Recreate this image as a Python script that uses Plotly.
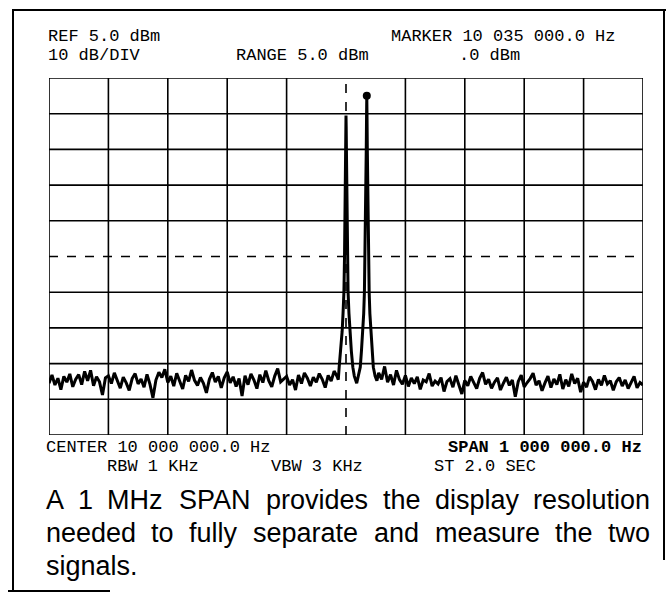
import plotly.graph_objects as go

# ---------------- data ----------------
CENTER_HZ = 10_000_000
SPAN_HZ = 1_000_000
REF_DBM = 5.0
DB_PER_DIV = 10

# noise floor to the left of the signals: offsets -500 .. -15 kHz, every 5 kHz
noise_left_khz = list(range(-500, -14, 5))
noise_left_dbm = [
    -80.5, -78.2, -81.0, -79.1, -82.3, -78.6, -80.2, -77.9, -81.5, -79.4,
    -78.1, -80.9, -77.2, -79.8, -76.9, -81.2, -78.7, -80.1, -83.8, -79.0,
    -78.4, -80.6, -77.6, -79.5, -81.9, -78.8, -80.4, -82.5, -79.2, -77.8,
    -80.7, -79.3, -81.6, -78.0, -80.8, -84.6, -79.6, -77.4, -78.9, -76.6,
    -80.3, -78.5, -81.3, -77.7, -79.9, -82.1, -78.3, -80.0, -76.8, -79.7,
    -81.1, -78.9, -80.5, -83.2, -79.4, -77.5, -80.2, -78.6, -81.8, -79.0,
    -77.3, -80.4, -78.7, -81.4, -79.2, -84.1, -78.4, -80.9, -77.9, -79.6,
    -82.0, -78.1, -80.3, -77.0, -79.8, -81.5, -78.5, -76.4, -80.1, -79.3,
    -78.6, -81.0, -79.5, -82.4, -78.2, -80.6, -77.6, -79.1, -81.3, -78.8,
    -80.2, -77.8, -79.4, -81.7, -78.3, -79.9, -77.1, -78.6,
]

# the two signals (10.000 MHz and 10.035 MHz) and their skirts
peaks_khz = [
    -13, -11.5, -9, -6.5, -5, -3.5, -2.5, -1.8, -1.2, -0.7, -0.3, 0,
    0.3, 0.7, 1.2, 1.8, 2.5, 3.5, 5, 6.5, 9, 11.5, 14, 18, 21, 24, 26,
    28.2, 29.8, 31, 32, 32.8, 33.5, 34.1, 34.6, 35, 35.4, 35.9, 36.5,
    37.2, 38, 39, 40.2, 41.8, 44, 46, 49, 52,
]
peaks_dbm = [
    -79.5, -76, -71.5, -66, -61, -55, -45, -35, -25, -15, -8.5, -5.5,
    -8.5, -15, -25, -35, -45, -55, -61, -66, -71.5, -76, -78.5, -80.5, -78.5, -76, -71.5,
    -66, -61, -55, -45, -35, -25, -15, -6, 0, -6, -15, -25,
    -35, -45, -55, -61, -66, -71.5, -76, -78.5, -79.8,
]

# noise floor to the right of the signals: offsets 55 .. 500 kHz, every 5 kHz
noise_right_khz = list(range(55, 501, 5))
noise_right_dbm = [
    -77.6, -79.4, -75.8, -80.2, -78.1, -81.0, -76.9, -79.5, -80.8, -78.3,
    -81.4, -79.0, -80.6, -78.7, -82.2, -79.6, -80.1, -77.8, -81.3, -79.9,
    -80.7, -78.9, -82.8, -80.0, -79.2, -81.6, -78.4, -80.9, -83.5, -79.7,
    -81.2, -78.6, -80.4, -82.0, -79.1, -77.5, -80.8, -79.4, -81.9, -80.2,
    -79.0, -82.4, -80.5, -78.8, -81.1, -79.6, -84.3, -80.0, -78.2, -81.5,
    -80.3, -79.2, -77.7, -81.0, -79.8, -82.6, -80.4, -78.5, -81.7, -79.3,
    -80.9, -78.0, -82.1, -79.5, -81.4, -77.9, -80.6, -79.1, -83.0, -80.2,
    -81.6, -78.7, -80.0, -82.3, -79.4, -81.1, -78.3, -80.7, -79.8, -82.5,
    -80.1, -78.9, -81.3, -79.6, -82.0, -80.4, -78.6, -81.8, -80.3, -81.0,
]

marker_hz = 10_035_000
marker_dbm = 0.0

header_left = ["REF 5.0 dBm", "10 dB/DIV"]
header_marker = ["MARKER 10 035 000.0 Hz", ".0 dBm"]
header_range = "RANGE 5.0 dBm"
footer_center = "CENTER 10 000 000.0 Hz"
footer_span = "SPAN 1 000 000.0 Hz"
footer_rbw = "RBW 1 KHz"
footer_vbw = "VBW 3 KHz"
footer_st = "ST 2.0 SEC"
caption_lines = [
    "A 1 MHz SPAN provides the display resolution",
    "needed to fully separate and measure the two",
    "signals.",
]

# ---------------- figure ----------------
W, H = 669, 596
GX0, GX1, GY0, GY1 = 49, 643, 78, 435


def px(x):
    return x / W


def py(y):
    return 1 - y / H


freqs = [CENTER_HZ + k * 1000 for k in noise_left_khz + peaks_khz + noise_right_khz]
levels = noise_left_dbm + peaks_dbm + noise_right_dbm

fig = go.Figure()
fig.add_trace(go.Scatter(
    x=freqs, y=levels, mode="lines",
    line=dict(color="black", width=3), hoverinfo="skip", showlegend=False,
))
fig.add_trace(go.Scatter(
    x=[marker_hz], y=[marker_dbm], mode="markers",
    marker=dict(color="black", size=8), hoverinfo="skip", showlegend=False,
))

x_lo, x_hi = CENTER_HZ - SPAN_HZ / 2, CENTER_HZ + SPAN_HZ / 2
y_hi = REF_DBM
y_lo = REF_DBM - 10 * DB_PER_DIV

shapes = []
for i in range(11):
    xv = x_lo + i * SPAN_HZ / 10
    shapes.append(dict(type="line", xref="x", yref="y", x0=xv, x1=xv, y0=y_lo, y1=y_hi,
                       line=dict(color="black", width=1.6,
                                 dash="dash" if i == 5 else "solid")))
for j in range(11):
    yv = y_lo + j * DB_PER_DIV
    shapes.append(dict(type="line", xref="x", yref="y", x0=x_lo, x1=x_hi, y0=yv, y1=yv,
                       line=dict(color="black", width=1.6,
                                 dash="dash" if j == 5 else "solid")))

# outer frame of the figure
frame = dict(color="black", width=2)
shapes.append(dict(type="line", xref="paper", yref="paper", x0=px(12), x1=px(666), y0=py(10), y1=py(10), line=frame))
shapes.append(dict(type="line", xref="paper", yref="paper", x0=px(13), x1=px(13), y0=py(10), y1=py(591), line=frame))
shapes.append(dict(type="line", xref="paper", yref="paper", x0=px(664), x1=px(664), y0=py(10), y1=py(560), line=frame))
shapes.append(dict(type="line", xref="paper", yref="paper", x0=px(8), x1=px(110), y0=py(591), y1=py(591), line=frame))

mono = "Liberation Mono"
MONO_SIZE = 17
ann = []


def txt(s, x, y, size=MONO_SIZE, bold=False, family=mono, anchor="left"):
    ann.append(dict(
        text=f"<b>{s}</b>" if bold else s, x=px(x), y=py(y), xref="paper", yref="paper",
        xanchor=anchor, yanchor="middle", showarrow=False, borderpad=0,
        font=dict(family=family, size=size, color="black"),
    ))


txt(header_left[0], 47, 36.5)
txt(header_left[1], 47, 56)
txt(header_marker[0], 616, 36.5, anchor="right")
txt(header_marker[1], 489, 56, anchor="center")
txt(header_range, 302, 56, anchor="center")
txt(footer_center, 45, 447.5)
txt(footer_span, 643, 447.5, bold=True, anchor="right")
txt(footer_rbw, 153, 467, anchor="center")
txt(footer_vbw, 317, 467, anchor="center")
txt(footer_st, 485, 467, anchor="center")

# justified caption (Arial / Liberation Sans advance widths, em units)
AW = {"A": .667, "1": .556, "M": .833, "H": .722, "z": .5, "S": .667, "P": .667,
      "N": .722, "p": .556, "r": .333, "o": .556, "v": .5, "i": .222, "d": .556,
      "e": .556, "s": .5, "t": .278, "h": .556, "l": .222, "a": .556, "y": .5,
      "u": .556, "n": .556, "f": .278, "m": .833, "w": .722, "g": .556, ".": .278}
CAP_SIZE = 27
CX0, CX1 = 45, 651
cap_y = [500, 533, 566]
for li, line in enumerate(caption_lines):
    words = line.split(" ")
    if li == len(caption_lines) - 1:
        txt(line, CX0, cap_y[li], size=CAP_SIZE, family="Liberation Sans")
        continue
    widths = [sum(AW.get(c, .556) for c in w) * CAP_SIZE for w in words]
    gap = (CX1 - CX0 - sum(widths)) / (len(words) - 1)
    xcur = CX0
    for wi, (w, wd) in enumerate(zip(words, widths)):
        if wi == 0:
            txt(w, CX0, cap_y[li], size=CAP_SIZE, family="Liberation Sans", anchor="left")
        elif wi == len(words) - 1:
            txt(w, CX1, cap_y[li], size=CAP_SIZE, family="Liberation Sans", anchor="right")
        else:
            txt(w, xcur + wd / 2, cap_y[li], size=CAP_SIZE, family="Liberation Sans", anchor="center")
        xcur += wd + gap

fig.update_layout(
    width=W, height=H, margin=dict(l=0, r=0, t=0, b=0),
    paper_bgcolor="white", plot_bgcolor="white",
    xaxis=dict(domain=[px(GX0), px(GX1)], range=[x_lo, x_hi], showgrid=False,
               zeroline=False, showticklabels=False, ticks="", fixedrange=True),
    yaxis=dict(domain=[py(GY1), py(GY0)], range=[y_lo, y_hi], showgrid=False,
               zeroline=False, showticklabels=False, ticks="", fixedrange=True),
    shapes=shapes, annotations=ann, showlegend=False,
)

fig.write_html(
    "out.html",
    config={"displayModeBar": False, "staticPlot": True},
    post_script="document.body.style.margin='0px';document.body.style.overflow='hidden';",
)
